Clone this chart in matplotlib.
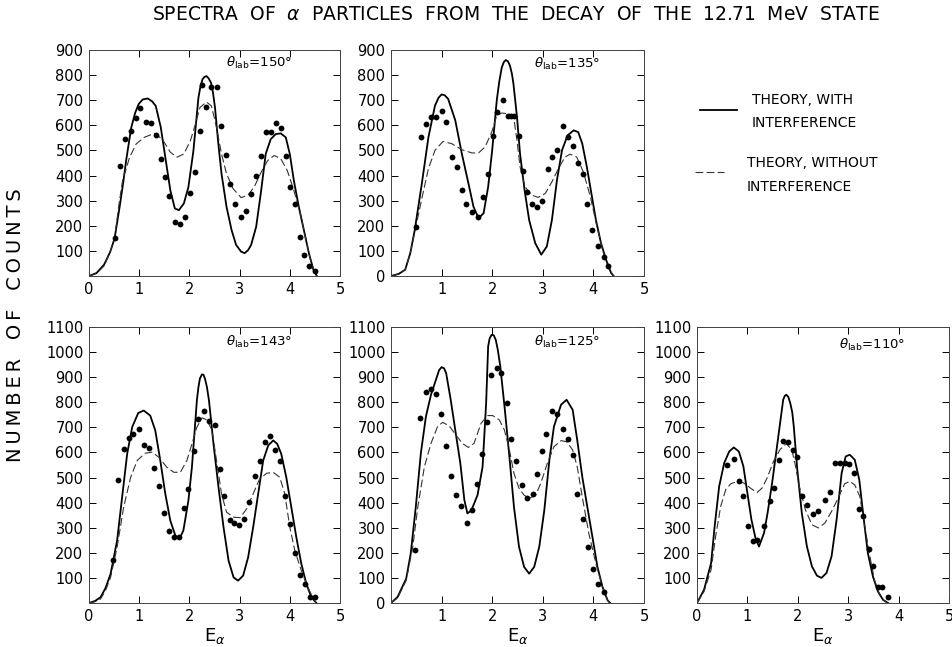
import numpy as np
import matplotlib.pyplot as plt

plt.rcParams['font.family'] = ['DejaVu Sans']
plt.rcParams['mathtext.fontset'] = 'dejavusans'

# ---- data: (E_alpha [MeV], counts) ----
# theta_lab = 150 deg
th150_with = [(0, 0), (0.15, 12), (0.3, 45), (0.42, 95), (0.51, 150), (0.61, 275), (0.68, 370),
              (0.74, 460), (0.84, 590), (0.92, 650), (0.99, 685), (1.07, 703), (1.17, 707),
              (1.26, 695), (1.33, 677), (1.43, 592), (1.53, 460), (1.62, 341), (1.71, 269),
              (1.79, 262), (1.89, 289), (1.98, 354), (2.08, 499), (2.18, 710), (2.22, 755),
              (2.26, 783), (2.30, 793), (2.34, 796), (2.38, 788), (2.43, 770), (2.47, 730),
              (2.51, 671), (2.57, 539), (2.64, 407), (2.74, 275),
              (2.84, 183), (2.93, 124), (3.03, 97), (3.10, 91), (3.17, 103), (3.23, 124),
              (3.33, 196), (3.43, 341), (3.52, 486), (3.62, 545), (3.72, 565), (3.82, 568),
              (3.92, 552), (4.00, 486), (4.08, 381), (4.18, 275), (4.28, 183), (4.38, 91),
              (4.47, 25), (4.54, 0)]
th150_without = [(0, 0), (0.15, 10), (0.3, 40), (0.42, 95), (0.51, 150), (0.6, 290), (0.67, 381),
                 (0.81, 473), (0.94, 526), (1.1, 552), (1.3, 568), (1.46, 545), (1.62, 493),
                 (1.75, 473), (1.89, 486), (2.02, 539), (2.12, 605), (2.21, 671), (2.34, 693),
                 (2.44, 677), (2.54, 592), (2.64, 486), (2.74, 407), (2.87, 348), (3.03, 312),
                 (3.16, 321), (3.29, 354), (3.43, 414), (3.56, 460), (3.69, 480), (3.82, 467),
                 (3.95, 420), (4.08, 341), (4.21, 249), (4.31, 157), (4.41, 65), (4.51, 5), (4.54, 0)]
th150_data = [(0.51, 150), (0.61, 440), (0.71, 545), (0.84, 578), (0.94, 628), (1.02, 668),
              (1.13, 614), (1.24, 611), (1.33, 563), (1.43, 466), (1.51, 394), (1.60, 318),
              (1.71, 216), (1.81, 209), (1.91, 233), (2.02, 331), (2.11, 414), (2.21, 578),
              (2.25, 760), (2.34, 675), (2.44, 752), (2.54, 752), (2.63, 596), (2.72, 482),
              (2.80, 368), (2.90, 285), (3.02, 236), (3.12, 260), (3.23, 328), (3.33, 397),
              (3.43, 476), (3.52, 572), (3.63, 572), (3.72, 611), (3.83, 589), (3.92, 476),
              (4.01, 353), (4.11, 286), (4.20, 157), (4.29, 84), (4.39, 41), (4.51, 18)]

# theta_lab = 135 deg
th135_with = [(0, 0), (0.15, 8), (0.28, 25), (0.38, 90), (0.47, 184), (0.61, 369), (0.74, 553),
              (0.87, 679), (0.94, 710), (1.0, 723), (1.06, 720), (1.13, 705), (1.27, 620),
              (1.40, 487), (1.53, 369), (1.63, 276), (1.73, 230), (1.83, 250), (1.92, 355),
              (2.0, 501), (2.09, 699), (2.14, 775), (2.19, 831), (2.23, 852), (2.27, 860),
              (2.31, 855), (2.35, 838), (2.39, 805), (2.42, 765), (2.49, 633), (2.55, 487),
              (2.64, 342), (2.73, 223), (2.85, 131), (2.97, 85), (3.08, 118), (3.18, 223),
              (3.28, 382), (3.38, 501), (3.49, 560), (3.61, 580), (3.70, 573), (3.78, 527),
              (3.87, 435), (3.96, 329), (4.05, 223), (4.15, 131), (4.25, 65), (4.35, 12), (4.40, 0)]
th135_without = [(0, 0), (0.15, 8), (0.28, 25), (0.38, 90), (0.47, 177), (0.61, 309), (0.74, 428),
                 (0.87, 501), (1.03, 536), (1.2, 527), (1.4, 503), (1.6, 490), (1.73, 490),
                 (1.86, 514), (1.99, 573), (2.09, 639), (2.19, 649), (2.32, 646), (2.42, 639),
                 (2.49, 540), (2.55, 435), (2.65, 355), (2.78, 322), (2.91, 313), (3.05, 329),
                 (3.18, 375), (3.31, 428), (3.44, 474), (3.54, 485), (3.67, 474), (3.80, 415),
                 (3.94, 316), (4.07, 197), (4.20, 91), (4.30, 32), (4.40, 0)]
th135_data = [(0.50, 197), (0.60, 553), (0.70, 606), (0.79, 635), (0.89, 635), (1.0, 659),
              (1.09, 613), (1.2, 474), (1.3, 435), (1.40, 342), (1.48, 285), (1.60, 254),
              (1.72, 234), (1.81, 316), (1.91, 408), (2.01, 556), (2.10, 653), (2.22, 699),
              (2.32, 639), (2.38, 639), (2.43, 639), (2.52, 557), (2.60, 420), (2.68, 335),
              (2.78, 287), (2.88, 276), (2.98, 299), (3.10, 428), (3.19, 474), (3.28, 501),
              (3.39, 596), (3.49, 553), (3.59, 517), (3.69, 450), (3.79, 406), (3.88, 285),
              (3.98, 184), (4.10, 118), (4.20, 74), (4.28, 41)]

# theta_lab = 143 deg
th143_with = [(0, 0), (0.12, 8), (0.23, 23), (0.33, 60), (0.43, 116), (0.56, 249), (0.66, 422),
              (0.76, 594), (0.86, 701), (0.98, 757), (1.09, 767), (1.22, 747), (1.32, 688),
              (1.42, 568), (1.52, 435), (1.62, 328), (1.72, 269), (1.80, 255), (1.88, 289),
              (1.98, 408), (2.05, 541), (2.11, 701), (2.15, 810), (2.18, 860), (2.21, 895),
              (2.25, 911), (2.28, 910), (2.31, 894), (2.35, 860), (2.39, 807), (2.48, 634),
              (2.58, 461), (2.68, 302), (2.78, 169), (2.88, 102),
              (2.97, 89), (3.07, 109), (3.17, 182), (3.27, 302), (3.37, 435), (3.47, 568),
              (3.57, 628), (3.67, 648), (3.75, 634), (3.83, 594), (3.93, 501), (4.03, 382),
              (4.13, 262), (4.23, 156), (4.33, 76), (4.43, 23), (4.53, 0)]
th143_without = [(0, 0), (0.12, 5), (0.23, 16), (0.33, 50), (0.43, 102), (0.56, 222), (0.69, 382),
                 (0.83, 501), (0.96, 568), (1.12, 597), (1.26, 601), (1.39, 581), (1.55, 541),
                 (1.69, 521), (1.82, 521), (1.95, 568), (2.05, 634), (2.15, 701), (2.25, 738),
                 (2.35, 730), (2.45, 688), (2.54, 568), (2.64, 435), (2.74, 362), (2.88, 342),
                 (3.01, 340), (3.14, 375), (3.27, 435), (3.40, 495), (3.54, 517), (3.67, 521),
                 (3.80, 501), (3.90, 435), (4.0, 302), (4.10, 209), (4.23, 129), (4.36, 62),
                 (4.49, 9), (4.53, 0)]
th143_data = [(0.48, 172), (0.58, 491), (0.69, 614), (0.79, 658), (0.87, 674), (0.99, 694),
              (1.10, 628), (1.20, 617), (1.29, 537), (1.40, 467), (1.50, 358), (1.60, 286),
              (1.70, 265), (1.80, 265), (1.90, 379), (1.98, 455), (2.09, 606), (2.18, 733),
              (2.29, 765), (2.39, 725), (2.50, 710), (2.60, 535), (2.68, 426), (2.80, 331),
              (2.89, 319), (2.99, 309), (3.09, 335), (3.19, 404), (3.30, 505), (3.40, 564),
              (3.50, 641), (3.60, 665), (3.71, 610), (3.81, 564), (3.91, 426), (4.01, 314),
              (4.11, 199), (4.21, 112), (4.31, 76), (4.41, 23), (4.51, 23)]

# theta_lab = 125 deg
th125_with = [(0, 0), (0.13, 24), (0.30, 97), (0.39, 197), (0.49, 383), (0.59, 597), (0.69, 743),
              (0.79, 830), (0.91, 903), (0.95, 928), (1.0, 940), (1.05, 935), (1.09, 916),
              (1.18, 810), (1.28, 676), (1.37, 557), (1.45, 410), (1.51, 357), (1.59, 370),
              (1.71, 430), (1.81, 543), (1.88, 796), (1.92, 1023), (1.95, 1055), (1.99, 1069),
              (2.03, 1067), (2.07, 1049), (2.11, 1010), (2.16, 943), (2.25, 770),
              (2.34, 583), (2.43, 383), (2.53, 224), (2.63, 144), (2.73, 117), (2.83, 144),
              (2.93, 224), (3.03, 370), (3.13, 570), (3.22, 703), (3.36, 790), (3.47, 810),
              (3.59, 770), (3.68, 650), (3.78, 503), (3.88, 383), (3.98, 264), (4.08, 144),
              (4.18, 64), (4.28, 11), (4.33, 0)]
th125_without = [(0, 0), (0.13, 20), (0.30, 90), (0.43, 224), (0.53, 383), (0.66, 543), (0.79, 636),
                 (0.92, 703), (1.02, 720), (1.15, 706), (1.28, 670), (1.41, 636), (1.53, 620),
                 (1.64, 636), (1.78, 716), (1.91, 747), (2.01, 747), (2.14, 730), (2.24, 690),
                 (2.34, 610), (2.43, 517), (2.53, 457), (2.63, 430), (2.73, 417), (2.86, 430),
                 (2.96, 477), (3.09, 557), (3.22, 623), (3.36, 647), (3.47, 643), (3.59, 610),
                 (3.68, 543), (3.78, 423), (3.91, 277), (4.05, 157), (4.18, 64), (4.28, 11), (4.33, 0)]
th125_data = [(0.47, 213), (0.58, 739), (0.69, 840), (0.79, 854), (0.89, 834), (0.99, 752),
              (1.09, 626), (1.18, 506), (1.28, 430), (1.38, 386), (1.51, 317), (1.60, 370),
              (1.69, 474), (1.79, 593), (1.89, 722), (1.97, 909), (2.09, 936), (2.18, 916),
              (2.29, 799), (2.37, 654), (2.47, 567), (2.58, 469), (2.68, 417), (2.80, 434),
              (2.89, 514), (2.98, 606), (3.07, 675), (3.19, 766), (3.29, 752), (3.39, 692),
              (3.49, 652), (3.59, 590), (3.68, 433), (3.80, 333), (3.89, 224), (3.99, 137),
              (4.09, 77), (4.21, 44)]

# theta_lab = 110 deg
th110_with = [(0, 0), (0.14, 53), (0.28, 159), (0.35, 305), (0.44, 465), (0.54, 558), (0.64, 604),
              (0.73, 620), (0.83, 604), (0.92, 545), (1.0, 438), (1.08, 332), (1.16, 259),
              (1.23, 225), (1.33, 279), (1.40, 358), (1.49, 478), (1.57, 598), (1.64, 704),
              (1.71, 810), (1.74, 825), (1.77, 830), (1.81, 822), (1.85, 797), (1.89, 760),
              (1.92, 704), (1.99, 531), (2.08, 358),
              (2.18, 226), (2.28, 146), (2.38, 109), (2.47, 100), (2.57, 120), (2.67, 186),
              (2.77, 332), (2.87, 518), (2.95, 584), (3.03, 591), (3.13, 571), (3.22, 491),
              (3.31, 332), (3.39, 199), (3.49, 106), (3.59, 46), (3.69, 13), (3.79, 0)]
th110_without = [(0, 0), (0.14, 46), (0.28, 133), (0.37, 266), (0.47, 385), (0.57, 452), (0.67, 475),
                 (0.80, 485), (0.93, 478), (1.06, 458), (1.19, 440), (1.29, 458), (1.39, 498),
                 (1.52, 565), (1.65, 612), (1.77, 635), (1.88, 612), (1.95, 550), (2.03, 465),
                 (2.15, 372), (2.28, 312), (2.41, 299), (2.54, 319), (2.67, 365), (2.80, 418),
                 (2.93, 475), (3.03, 485), (3.13, 471), (3.23, 425), (3.33, 305), (3.43, 186),
                 (3.52, 93), (3.62, 33), (3.72, 7), (3.79, 0)]
th110_data = [(0.59, 551), (0.73, 574), (0.83, 485), (0.92, 425), (1.02, 305), (1.12, 246),
              (1.19, 252), (1.33, 305), (1.44, 405), (1.52, 458), (1.62, 568), (1.71, 644),
              (1.80, 641), (1.90, 611), (1.99, 582), (2.09, 428), (2.18, 392), (2.30, 355),
              (2.41, 368), (2.54, 412), (2.64, 441), (2.74, 558), (2.83, 558), (2.93, 558),
              (3.02, 554), (3.11, 518), (3.21, 375), (3.29, 345), (3.41, 215), (3.49, 146),
              (3.59, 65), (3.67, 65), (3.79, 23)]

angles = ['150', '135', '143', '125', '110']

W, H = 952, 647
fig = plt.figure(figsize=(W / 100, H / 100), dpi=100)


def px_axes(x0, x1, ytop, ybot):
    return fig.add_axes([x0 / W, 1 - ybot / H, (x1 - x0) / W, (ybot - ytop) / H])


# (curve with, curve without, points, angle, box, ymax, label zero on x axis, label pos)
panels = [
    (th150_with, th150_without, th150_data, angles[0], (89, 340, 50, 276), 900, True, (2.72, 850)),
    (th135_with, th135_without, th135_data, angles[1], (391, 644, 50, 276), 900, False, (2.83, 845)),
    (th143_with, th143_without, th143_data, angles[2], (89, 340, 327, 603), 1100, True, (2.72, 1040)),
    (th125_with, th125_without, th125_data, angles[3], (391, 644, 327, 603), 1100, False, (2.83, 1040)),
    (th110_with, th110_without, th110_data, angles[4], (697, 949, 327, 603), 1100, True, (2.82, 1030)),
]

for withc, without, pts, ang, box, ymax, x0lab, tpos in panels:
    ax = px_axes(*box)
    e, n = zip(*withc)
    ax.plot(e, n, color='black', lw=1.3, solid_joinstyle='round')
    e, n = zip(*without)
    ax.plot(e, n, color='#333333', lw=0.8, dashes=(7, 3))
    e, n = zip(*pts)
    ax.plot(e, n, 'o', color='black', ms=4.2, mew=0)
    ax.set_xlim(0, 5)
    ax.set_ylim(0, ymax)
    ax.set_xticks(range(6))
    ax.set_yticks(range(0, ymax + 1, 100))
    xl = [str(i) for i in range(6)]
    yl = [str(v) for v in range(0, ymax + 1, 100)]
    if x0lab:
        yl[0] = ''
    else:
        xl[0] = ''
    ax.set_xticklabels(xl)
    ax.set_yticklabels(yl)
    ax.tick_params(direction='in', top=True, right=True, length=5, width=0.7,
                   labelsize=10.5, pad=4, colors='black')
    for s in ax.spines.values():
        s.set_linewidth(0.7)
        s.set_color('#444444')
    ax.text(tpos[0], tpos[1], r'$\theta_{\rm lab}$=' + ang + '°', fontsize=9.5, va='center')
    if ymax == 1100:
        ax.set_xlabel(r'E$_\alpha$', fontsize=13, labelpad=2)

# title and y label
fig.text(516 / W, 1 - 15 / H,
         r'SPECTRA  OF  $\alpha$  PARTICLES  FROM  THE  DECAY  OF  THE  12.71  MeV  STATE',
         ha='center', va='center', fontsize=13.5)
ylab = '\u2009'.join('NUMBER') + '   ' + '\u2009'.join('OF') + '   ' + '\u2009'.join('COUNTS')
fig.text(16 / W, 1 - 325 / H, ylab, rotation=90, ha='center', va='center', fontsize=14)

# legend in the empty top-right spot
fig.add_artist(plt.Line2D([700 / W, 737 / W], [1 - 110 / H, 1 - 110 / H], color='black', lw=1.3))
fig.text(752 / W, 1 - 100 / H, 'THEORY, WITH', fontsize=10, va='center')
fig.text(752 / W, 1 - 123 / H, 'INTERFERENCE', fontsize=10, va='center')
fig.add_artist(plt.Line2D([695 / W, 724 / W], [1 - 172 / H, 1 - 172 / H], color='#333333',
                          lw=0.8, dashes=(7, 3)))
fig.text(747 / W, 1 - 163 / H, 'THEORY, WITHOUT', fontsize=10, va='center')
fig.text(747 / W, 1 - 187 / H, 'INTERFERENCE', fontsize=10, va='center')

fig.savefig('out.png', dpi=100)
